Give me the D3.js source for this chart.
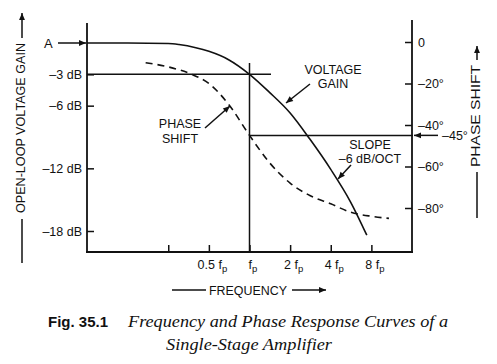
<!DOCTYPE html>
<html>
<head>
<meta charset="utf-8">
<script src="https://cdn.jsdelivr.net/npm/d3@7"></script>
<style>
  body { margin: 0; background: #fff; }
  svg { display: block; font-family: "Liberation Sans", Arial, sans-serif; }
  text { fill: #111; }
</style>
</head>
<body>
<svg id="chart" width="497" height="364"></svg>
<script>
// ---- data (frequency in units of fp) ----
const gainFreq = [0.0625, 0.125, 0.25, 0.3, 0.4, 0.5, 0.7, 1, 1.4, 2, 2.8, 4, 5.6, 7.4];
const gainDb   = [0, 0, -0.05, -0.15, -0.45, -0.8, -1.6, -3, -4.7, -6.7, -9.2, -12.1, -15.2, -18.4];
const phaseFreq = [0.17, 0.25, 0.37, 0.5, 0.7, 1, 1.4, 2, 2.8, 4, 5.6, 8, 10.8];
const phaseDeg  = [-10, -12, -15.5, -20, -30, -45, -58, -68, -74, -78, -82, -84, -85];
const freqTicks = [0.25, 0.5, 1, 2, 4, 8];
const freqTickLabels = ["", "0.5 f", "f", "2 f", "4 f", "8 f"];
const gainTicks = [-3, -6, -12, -18];
const gainTickLabels = ["–3 dB", "–6 dB", "–12 dB", "–18 dB"];
const phaseTicks = [0, -20, -40, -60, -80];
const phaseTickLabels = ["0", "–20°", "–40°", "–60°", "–80°"];

const svg = d3.select("#chart");
const ink = "#111";
const SANS = "'Liberation Sans', Arial, sans-serif";
const SERIF = "'Liberation Serif', 'Times New Roman', serif";

const x = d3.scaleLog().base(2).domain([1/16, 16]).range([87, 412]);
const yG = d3.scaleLinear().domain([0, -18]).range([43, 231]);
const yP = d3.scaleLinear().domain([0, -80]).range([42, 208]);
const baseY = 252;

// arrow marker
const defs = svg.append("defs");
defs.append("marker").attr("id", "arr").attr("viewBox", "0 0 10 10")
  .attr("refX", 10).attr("refY", 5).attr("markerWidth", 9).attr("markerHeight", 7)
  .attr("markerUnits", "userSpaceOnUse").attr("orient", "auto")
  .append("path").attr("d", "M0,0.8 L10,5 L0,9.2 Z").attr("fill", ink);

// axis lines
svg.append("line").attr("x1", 87).attr("x2", 87).attr("y1", 23).attr("y2", baseY)
  .attr("stroke", ink).attr("stroke-width", 1.8);
svg.append("line").attr("x1", 412).attr("x2", 412).attr("y1", 20).attr("y2", baseY)
  .attr("stroke", ink).attr("stroke-width", 1.8);
svg.append("line").attr("x1", 86).attr("x2", 413).attr("y1", baseY).attr("y2", baseY)
  .attr("stroke", ink).attr("stroke-width", 1.8);

// left axis
const gL = svg.append("g").attr("transform", "translate(87,0)")
  .call(d3.axisLeft(yG).tickValues(gainTicks).tickSizeInner(-7).tickSizeOuter(0).tickPadding(5)
    .tickFormat((d, i) => gainTickLabels[i]));
gL.select(".domain").remove();
gL.selectAll(".tick line").attr("stroke", ink).attr("stroke-width", 1.5);
gL.selectAll(".tick text").attr("font-size", 12.5).style("font-family", SANS).attr("fill", ink);

// right axis
const gR = svg.append("g").attr("transform", "translate(412,0)")
  .call(d3.axisRight(yP).tickValues(phaseTicks).tickSizeInner(-7).tickSizeOuter(0).tickPadding(6)
    .tickFormat((d, i) => phaseTickLabels[i]));
gR.select(".domain").remove();
gR.selectAll(".tick line").attr("stroke", ink).attr("stroke-width", 1.5);
gR.selectAll(".tick text").attr("font-size", 12.5).style("font-family", SANS).attr("fill", ink);

// bottom axis
const gB = svg.append("g").attr("transform", `translate(0,${baseY})`)
  .call(d3.axisBottom(x).tickValues(freqTicks).tickSizeInner(-7).tickSizeOuter(0).tickPadding(8)
    .tickFormat(() => ""));
gB.select(".domain").remove();
gB.selectAll(".tick line").attr("stroke", ink).attr("stroke-width", 1.5);
gB.selectAll(".tick text").each(function(d, i) {
  const t = d3.select(this).attr("font-size", 12.5).style("font-family", SANS).attr("fill", ink).attr("dx", "3");
  if (!freqTickLabels[i]) return;
  t.append("tspan").text(freqTickLabels[i]);
  t.append("tspan").attr("font-size", 9.5).attr("dy", "3").text("p");
});

// reference lines
svg.append("line").attr("x1", 87).attr("x2", 271).attr("y1", yG(-3)).attr("y2", yG(-3))
  .attr("stroke", ink).attr("stroke-width", 1.5);
svg.append("line").attr("x1", x(1)).attr("x2", x(1)).attr("y1", 63).attr("y2", baseY)
  .attr("stroke", ink).attr("stroke-width", 1.5);
svg.append("line").attr("x1", x(1)).attr("x2", 413).attr("y1", yP(-45)).attr("y2", yP(-45))
  .attr("stroke", ink).attr("stroke-width", 1.5);
svg.append("path").attr("d", `M438,${yP(-45)} L414,${yP(-45)}`)
  .attr("stroke", ink).attr("stroke-width", 1.5).attr("marker-end", "url(#arr)");
svg.append("text").attr("x", 442).attr("y", yP(-45) + 5).attr("font-size", 12.5).text("–45°");

// A label + arrow
svg.append("text").attr("x", 44).attr("y", yG(0) + 5).attr("font-size", 13).text("A");
svg.append("path").attr("d", `M58,${yG(0)} L86,${yG(0)}`)
  .attr("stroke", ink).attr("stroke-width", 1.5).attr("marker-end", "url(#arr)");

// curves
const gainData = gainFreq.map((f, i) => [f, gainDb[i]]);
const phaseData = phaseFreq.map((f, i) => [f, phaseDeg[i]]);
svg.append("path").datum(gainData)
  .attr("d", d3.line().x(d => x(d[0])).y(d => yG(d[1])).curve(d3.curveMonotoneX))
  .attr("fill", "none").attr("stroke", ink).attr("stroke-width", 1.6);
svg.append("path").datum(phaseData)
  .attr("d", d3.line().x(d => x(d[0])).y(d => yP(d[1])).curve(d3.curveMonotoneX))
  .attr("fill", "none").attr("stroke", ink).attr("stroke-width", 1.6)
  .attr("stroke-dasharray", "7,5");

// annotations
function label(lines, cx, cy, dy) {
  lines.forEach((s, i) => svg.append("text").attr("x", cx).attr("y", cy + i * dy)
    .attr("text-anchor", "middle").attr("font-size", 12.5).text(s));
}
label(["VOLTAGE", "GAIN"], 333, 74, 14);
svg.append("path").attr("d", "M310,84 L286,103").attr("stroke", ink).attr("stroke-width", 1.5).attr("marker-end", "url(#arr)");
label(["PHASE", "SHIFT"], 180, 128, 15);
svg.append("path").attr("d", "M205,128 L230,106").attr("stroke", ink).attr("stroke-width", 1.5).attr("marker-end", "url(#arr)");
label(["SLOPE", "–6 dB/OCT"], 370, 149, 14);
svg.append("path").attr("d", "M351,165 L338,179").attr("stroke", ink).attr("stroke-width", 1.5).attr("marker-end", "url(#arr)");

// axis titles
svg.append("text").attr("transform", "translate(22,128) rotate(-90)")
  .attr("text-anchor", "middle").attr("dominant-baseline", "middle")
  .attr("font-size", 12.5).attr("textLength", 170).attr("lengthAdjust", "spacingAndGlyphs")
  .text("OPEN-LOOP VOLTAGE GAIN");
svg.append("line").attr("x1", 22).attr("x2", 22).attr("y1", 219).attr("y2", 263).attr("stroke", ink).attr("stroke-width", 1.5);
svg.append("path").attr("d", "M22,38 L22,13").attr("stroke", ink).attr("stroke-width", 1.5).attr("marker-end", "url(#arr)");

svg.append("text").attr("transform", "translate(477,116) rotate(-90)")
  .attr("text-anchor", "middle").attr("dominant-baseline", "middle")
  .attr("font-size", 12.5).attr("textLength", 102).attr("lengthAdjust", "spacingAndGlyphs")
  .text("PHASE SHIFT");
svg.append("line").attr("x1", 477).attr("x2", 477).attr("y1", 172).attr("y2", 218).attr("stroke", ink).attr("stroke-width", 1.5);
svg.append("path").attr("d", "M477,60 L477,46").attr("stroke", ink).attr("stroke-width", 1.5).attr("marker-end", "url(#arr)");

svg.append("text").attr("x", 248).attr("y", 295).attr("text-anchor", "middle")
  .attr("font-size", 12.5).attr("textLength", 78).attr("lengthAdjust", "spacingAndGlyphs").text("FREQUENCY");
svg.append("line").attr("x1", 172).attr("x2", 206).attr("y1", 290).attr("y2", 290).attr("stroke", ink).attr("stroke-width", 1.5);
svg.append("path").attr("d", "M292,290 L326,290").attr("stroke", ink).attr("stroke-width", 1.5).attr("marker-end", "url(#arr)");

// caption
svg.append("text").attr("x", 48).attr("y", 327).attr("font-size", 15.5).attr("font-weight", "bold")
  .style("font-family", SANS)
  .attr("textLength", 60).attr("lengthAdjust", "spacingAndGlyphs").text("Fig. 35.1");
svg.append("text").attr("x", 128).attr("y", 327).attr("font-size", 17)
  .style("font-family", SERIF).style("font-style", "italic")
  .attr("textLength", 320).attr("lengthAdjust", "spacingAndGlyphs")
  .text("Frequency and Phase Response Curves of a");
svg.append("text").attr("x", 166).attr("y", 350).attr("font-size", 17)
  .style("font-family", SERIF).style("font-style", "italic")
  .attr("textLength", 166).attr("lengthAdjust", "spacingAndGlyphs")
  .text("Single-Stage Amplifier");
</script>
</body>
</html>
